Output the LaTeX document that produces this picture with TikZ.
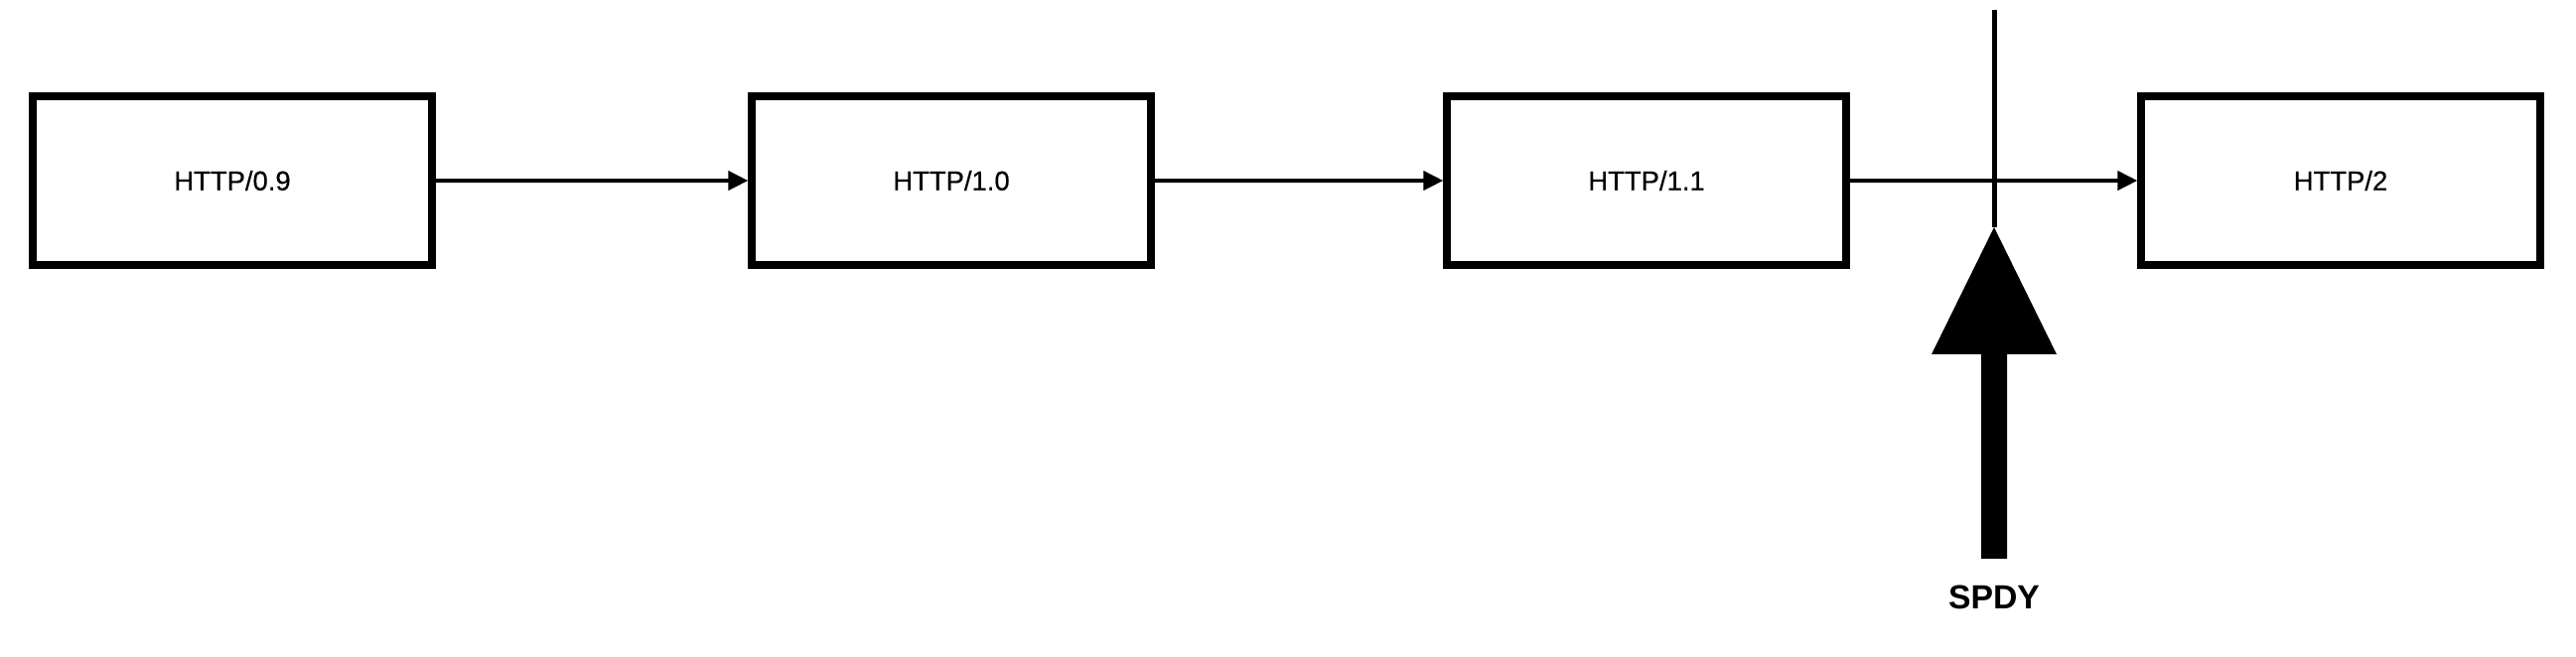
\documentclass[tikz,border=0pt]{standalone}
\usepackage{fontspec}
\setmainfont{Liberation Sans}
\newfontfamily\labelfont[FakeBold=0.4]{Liberation Sans}
\usetikzlibrary{arrows.meta}
\tikzset{
  verbox/.style={draw=black, line width=2.28pt, fill=white,
    minimum width=4.01cm, minimum height=1.70cm, inner sep=0pt,
    font=\labelfont\fontsize{7.8}{9}\selectfont, text height=0.195cm, text depth=0pt},
  flow/.style={draw=black, line width=1.14pt, -{Triangle[length=0.2cm,width=0.19cm]}},
  thinline/.style={draw=black, line width=1.42pt},
  biglabel/.style={font=\bfseries\fontsize{9.6}{11}\selectfont, inner sep=0pt,
    text height=0.25cm, text depth=0pt}
}
\begin{document}
\begin{tikzpicture}[x=0.01cm, y=-0.01cm]
\useasboundingbox (0,0) rectangle (2594,662);
\node[verbox] (h09) at (234,182) {HTTP/0.9};
\node[verbox] (h10) at (958,182) {HTTP/1.0};
\node[verbox] (h11) at (1658,182) {HTTP/1.1};
\node[verbox] (h2)  at (2357,182) {HTTP/2};
\draw[flow] (h09.east) -- (h10.west);
\draw[flow] (h10.east) -- (h11.west);
\draw[flow] (h11.east) -- (h2.west);
% SPDY arrow
\coordinate (top) at (2008,10);
\coordinate (tip) at (2008,229);
\coordinate (shaftend) at (2008,563);
\draw[thinline] (top) -- (tip);
\fill[black] (tip) -- (2071,357) -- (2021,357) -- (2021,563) -- (1995,563)
  -- (1995,357) -- (1945,357) -- cycle;
\node[biglabel] (spdy) at (2008,601.5) {SPDY};
\end{tikzpicture}
\end{document}
